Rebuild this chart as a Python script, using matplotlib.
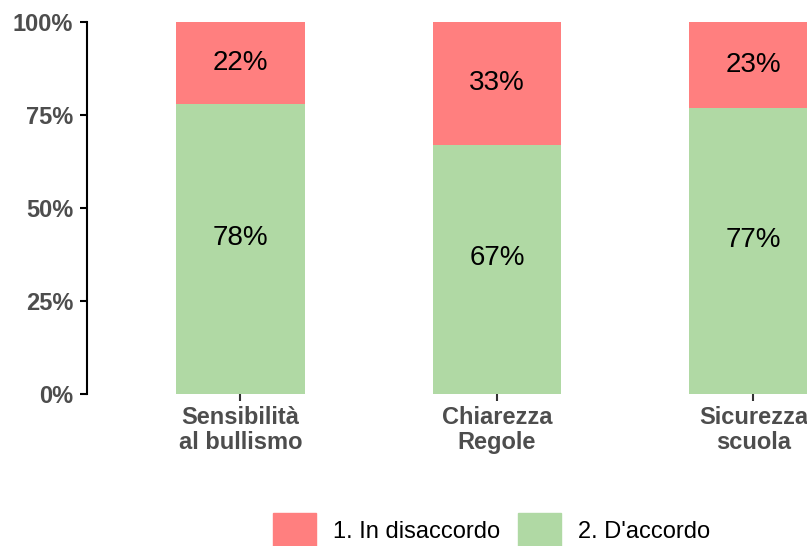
import numpy as np
import matplotlib
matplotlib.use("Agg")
import matplotlib.pyplot as plt
from matplotlib.patches import Patch

plt.rcParams['font.family'] = ['Liberation Sans', 'DejaVu Sans']

# data
categories = ["Sensibilità\nal bullismo", "Chiarezza\nRegole", "Sicurezza\nscuola"]
disaccordo = [22, 33, 23]
accordo = [78, 67, 77]
series_names = ["1. In disaccordo", "2. D'accordo"]
col_dis = "#FF7F7F"
col_acc = "#B0D9A4"

fig = plt.figure(figsize=(8.07, 5.46), dpi=100)
ax = fig.add_axes([87/807, 1 - 394/546, 720/807, 372/546])

x = np.arange(1, len(categories) + 1)
ax.bar(x, accordo, width=0.5, color=col_acc)
ax.bar(x, disaccordo, width=0.5, bottom=accordo, color=col_dis)

# labels in the middle of each segment
for xi, a, d in zip(x, accordo, disaccordo):
    ax.text(xi, a / 2 + 3, f"{a}%", ha='center', va='center', fontsize=20, color='black')
    ax.text(xi, a + d / 2, f"{d}%", ha='center', va='center', fontsize=20, color='black')

ax.set_xlim(0.402, 3.209)
ax.set_ylim(0, 100)
ax.set_yticks([0, 25, 50, 75, 100])
ax.set_yticklabels(["0%", "25%", "50%", "75%", "100%"])
ax.set_xticks(x)
ax.set_xticklabels(categories, linespacing=1.1)

for s in ['top', 'right', 'bottom']:
    ax.spines[s].set_visible(False)
ax.spines['left'].set_linewidth(1.5)
ax.spines['left'].set_color('black')

ax.tick_params(axis='y', length=5, width=1.5, color='black', pad=5,
               labelsize=17, labelcolor='#4D4D4D')
ax.tick_params(axis='x', length=5, width=1.5, color='#333333', pad=4,
               labelsize=17, labelcolor='#4D4D4D')
for lbl in ax.get_xticklabels() + ax.get_yticklabels():
    lbl.set_fontweight('bold')

handles = [Patch(color=col_dis), Patch(color=col_acc)]
fig.legend(handles, series_names, loc='center left',
           bbox_to_anchor=(273/807, 1 - 530/546), ncol=2, frameon=False,
           fontsize=17, handlelength=1.82, handleheight=1.82,
           handletextpad=0.72, columnspacing=0.76, borderpad=0, borderaxespad=0)

fig.savefig("out.png", dpi=100)
